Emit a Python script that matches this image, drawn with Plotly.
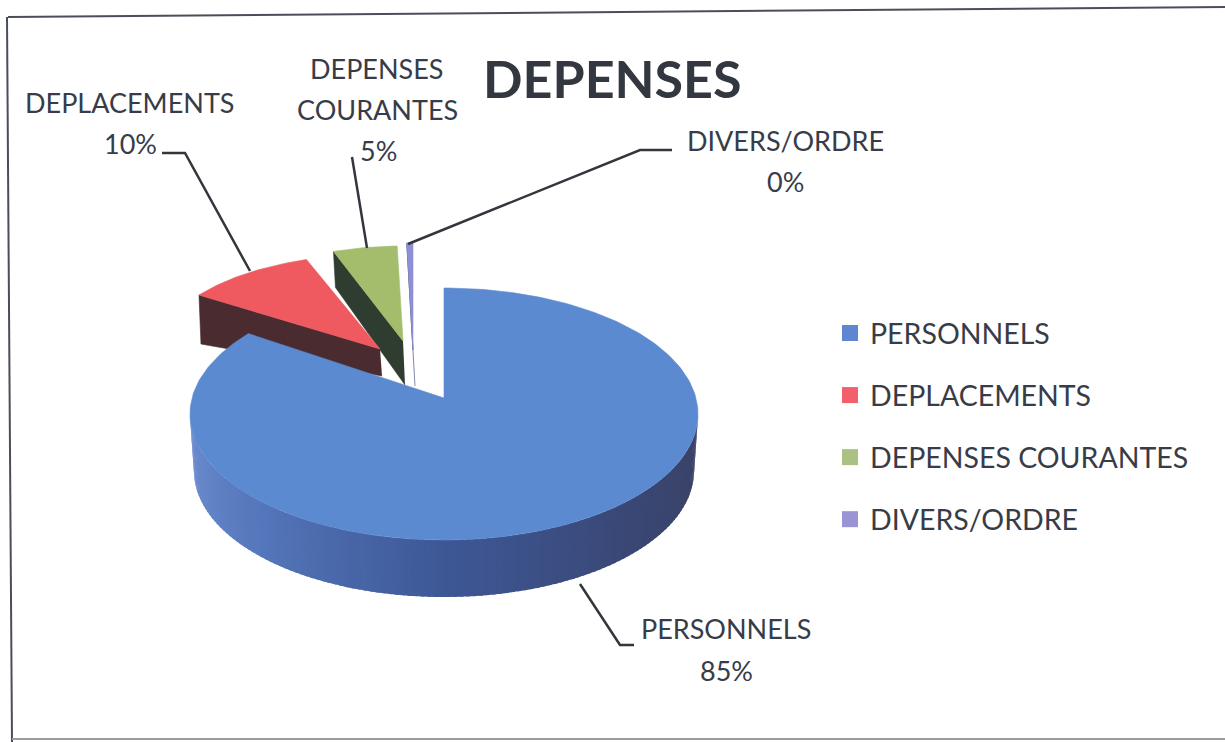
import math
import plotly.graph_objects as go

# ---- chart data ----
categories = ["PERSONNELS", "DEPLACEMENTS", "DEPENSES COURANTES", "DIVERS/ORDRE"]
values = [85, 10, 5, 0.45]

# ---- styling ----
top_colors = ["#5b8ad0", "#ee5a60", "#a3bd6c", "#8f8fd6"]
legend_colors = ["#5f86d0", "#f2606e", "#a9c283", "#9a94d4"]
side_colors = ["#3f5a97", "#4a2b30", "#2f3d30", "#3d3a70"]
text_color = "#383c48"
FONT = "Lato, Carlito, Open Sans, sans-serif"

# per-slice projected geometry: apex, radii, side depth at apex and at rim
geom = [
    dict(ax=444, ay=398, cx=444, cy=414, rx=254, ry=126, warp=6.1),
    dict(ax=380, ay=349, cx=380, cy=349, rx=220, ry=95, warp=0, d0=27, d1=49),
    dict(ax=403, ay=341, cx=403, cy=341, rx=208, ry=95, warp=0, d0=44, d1=36),
    dict(ax=413, ay=350, cx=413, cy=350, rx=220, ry=107, warp=0, d0=36, d1=36),
]


def rim(g, deg):
    t = deg - g["warp"] * math.sin(math.radians(deg))
    r = math.radians(t)
    return g["cx"] + g["rx"] * math.sin(r), g["cy"] - g["ry"] * math.cos(r)


def mix(stops, f):
    f = max(0, min(1, f)) * (len(stops) - 1)
    i = min(int(f), len(stops) - 2)
    a, b = stops[i], stops[i + 1]
    w = f - i
    return "rgb(%d,%d,%d)" % tuple(a[k] + (b[k] - a[k]) * w for k in range(3))


total = sum(values)
bounds = [0]
for v in values:
    bounds.append(bounds[-1] + v / total * 360)

fig = go.Figure()


def poly(xs, ys, color, lw=0.6):
    fig.add_trace(go.Scatter(x=xs, y=ys, mode="lines", fill="toself", fillcolor=color,
                             line=dict(color=color, width=lw), showlegend=False,
                             hoverinfo="skip"))


# exploded slices, back to front: divers, depenses courantes, deplacements
for i in [3, 2, 1]:
    g = geom[i]
    a0, a1 = bounds[i], bounds[i + 1]
    px, py = rim(g, a0)
    # side wall along the leading radial edge
    poly([g["ax"], px, px + 2, g["ax"] + 2],
         [g["ay"], py, py + g["d1"], g["ay"] + g["d0"]], side_colors[i])
    n = max(2, int(a1 - a0))
    arc = [rim(g, a0 + (a1 - a0) * k / n) for k in range(n + 1)]
    poly([g["ax"]] + [p[0] for p in arc] + [g["ax"]],
         [g["ay"]] + [p[1] for p in arc] + [g["ay"]], top_colors[i])

# main slice: shaded outer wall
g = geom[0]
stops = [(112, 144, 210), (84, 118, 186), (62, 88, 150), (58, 72, 118), (58, 66, 100)]
steps = 120
bx, by, brx, bry = g["cx"], g["cy"] + 57, 250, g["ry"]
for k in range(steps):
    d0 = 90 + (270 - 90) * k / steps
    d1 = 90 + (270 - 90) * (k + 1.6) / steps
    x0, y0 = g["cx"] + g["rx"] * math.sin(math.radians(d0)), g["cy"] - g["ry"] * math.cos(math.radians(d0))
    x1, y1 = g["cx"] + g["rx"] * math.sin(math.radians(d1)), g["cy"] - g["ry"] * math.cos(math.radians(d1))
    x2, y2 = bx + brx * math.sin(math.radians(d1)), by - bry * math.cos(math.radians(d1))
    x3, y3 = bx + brx * math.sin(math.radians(d0)), by - bry * math.cos(math.radians(d0))
    poly([x0, x1, x2, x3], [y0, y1, y2, y3], mix(stops, 1 - (k + 0.5) / steps), lw=0)

# main slice: top face
a0, a1 = bounds[0], bounds[1]
arc = [rim(g, a0 + (a1 - a0) * k / 240) for k in range(241)]
poly([g["ax"]] + [p[0] for p in arc] + [g["ax"]],
     [g["ay"]] + [p[1] for p in arc] + [g["ay"]], top_colors[0])

# legend entries
for name, col in zip(categories, legend_colors):
    fig.add_trace(go.Scatter(x=[None], y=[None], mode="markers", name=name, legendgroup=name,
                             marker=dict(symbol="square", size=19, color=col)))

# leader lines
leaders = [
    ([162, 185, 250], [153, 153, 271]),
    ([352, 367], [157, 248]),
    ([672, 640, 408], [150, 150, 244]),
    ([580, 620, 634], [584, 645, 645]),
]
for xs, ys in leaders:
    fig.add_trace(go.Scatter(x=xs, y=ys, mode="lines", line=dict(color="#33363c", width=2.5),
                             showlegend=False, hoverinfo="skip"))

pct = ["%d%%" % round(v / total * 100) for v in values]
labels = [
    (726, 628, categories[0]), (726, 670, pct[0]),
    (129, 102, categories[1]), (130, 143, pct[1]),
    (376, 68, "DEPENSES"), (377, 109, "COURANTES"), (378, 150, pct[2]),
    (785, 140, categories[3]), (785, 181, pct[3]),
]
annotations = [dict(x=x, y=y, text=t, showarrow=False, xanchor="center", yanchor="middle",
                    font=dict(family=FONT, size=27, color=text_color)) for x, y, t in labels]
annotations.append(dict(x=612, y=78, text="<b>DEPENSES</b>", showarrow=False, xanchor="center",
                        yanchor="middle", font=dict(family=FONT, size=52, color="#33373f")))

frame = [
    (8, 17, 1225, 7, "#4a4e58", 2),
    (7, 17, 12, 742, "#4a4e58", 2),
    (12, 739, 1225, 739, "#9a9ca2", 2),
]
shapes = [dict(type="line", xref="x", yref="y", x0=a, y0=b, x1=c, y1=d,
               line=dict(color=col, width=w), layer="below") for a, b, c, d, col, w in frame]

fig.update_layout(
    width=1225, height=742, autosize=False,
    margin=dict(l=0, r=0, t=0, b=0),
    paper_bgcolor="white", plot_bgcolor="white",
    xaxis=dict(range=[0, 1225], visible=False, fixedrange=True),
    yaxis=dict(range=[742, 0], visible=False, fixedrange=True),
    shapes=shapes, annotations=annotations,
    showlegend=True,
    legend=dict(x=830 / 1225, y=1 - 308 / 742, xanchor="left", yanchor="top",
                bgcolor="rgba(0,0,0,0)", tracegroupgap=22, itemwidth=30,
                font=dict(family=FONT, size=28.5, color=text_color)),
)

fig.write_html("out.html", config=dict(displayModeBar=False),
               post_script="document.body.style.margin='0';document.body.style.overflow='hidden';")
